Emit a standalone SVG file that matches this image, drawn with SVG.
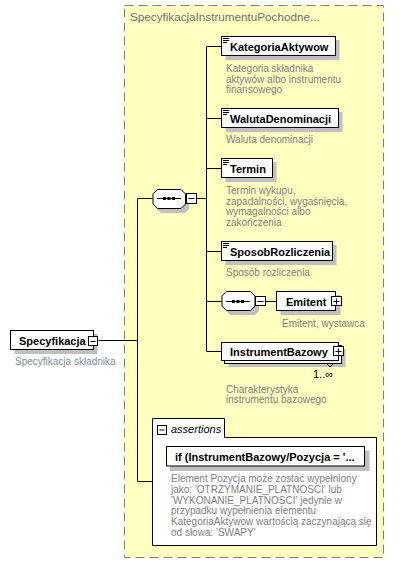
<svg xmlns="http://www.w3.org/2000/svg" width="401" height="575" viewBox="0 0 401 575">
<style>
.bg{fill:#fff}
.frame{fill:#ffffc0;stroke:#808080;stroke-width:1;stroke-dasharray:9,5}
.box{fill:#fff;stroke:#000;stroke-width:1}
.shadow{fill:#c0c0c0}
.name{font-family:"Liberation Sans",Arial,sans-serif;font-size:11px;font-weight:bold;fill:#000}
.desc{font-family:"Liberation Sans",Arial,sans-serif;font-size:10px;fill:#808080}
.title{font-family:"Liberation Sans",Arial,sans-serif;font-size:11.7px;fill:#707070}
.ital{font-family:"Liberation Sans",Arial,sans-serif;font-size:11px;font-style:italic;fill:#000}
.line{stroke:#000;stroke-width:1;fill:none}
.sym{stroke:#000;stroke-width:1;fill:none}
</style>
<rect class="bg" x="0" y="0" width="401" height="575"/>
<g id="frame">
<rect class="frame" x="124.5" y="5.5" width="259" height="552"/>
<text class="title" x="130" y="21">SpecyfikacjaInstrumentuPochodne...</text>
</g>
<g id="connectors">
<path class="line" d="M98.5 340.5H137.5M137.5 198.5V481.5M137.5 198.5H152.5M137.5 481.5H152.5"/>
<path class="line" d="M196.5 198.5H206.5M206.5 46.5V351.5M206.5 46.5H221.5M206.5 118.5H221.5M206.5 168.5H221.5M206.5 251.5H221.5M206.5 301.5H221.5M206.5 351.5H221.5"/>
<path class="line" d="M265.5 301.5H276.5"/>
</g>
<g id="Specyfikacja">
<rect class="shadow" x="14.5" y="334" width="83" height="20"/>
<rect class="box" x="10.5" y="330.5" width="83" height="19"/>
<text class="name" x="19" y="345">Specyfikacja</text>
<rect class="box" x="88.5" y="336.5" width="9" height="9"/>
<path class="sym" d="M90.5 341.5H95.5"/>
<text class="desc" x="15" y="365" style="fill:#8090a0">Specyfikacja składnika</text>
</g>
<g id="sequence1">
<path class="shadow" d="M161 193H185L189 197V209L185 213H161L157 209V197Z"/>
<path class="box" d="M157.5 189.5H181L185.5 194V204L181 208.5H157.5L153 204V194Z"/>
<path class="sym" d="M157 198.5H181"/>
<rect x="163" y="197" width="3" height="3" fill="#000"/>
<rect x="167.5" y="197" width="3" height="3" fill="#000"/>
<rect x="172" y="197" width="3" height="3" fill="#000"/>
<rect class="box" x="186.5" y="193.5" width="10" height="10"/>
<path class="sym" d="M188.5 198.5H194.5"/>
</g>
<g id="KategoriaAktywow">
<rect class="shadow" x="225.5" y="40" width="114" height="20"/>
<rect class="box" x="221.5" y="36.5" width="114" height="19"/>
<path class="sym" d="M223 38.5H229M223 40.5H229M223 42.5H227"/>
<text class="name" x="230" y="51">KategoriaAktywow</text>
<text class="desc" x="226" y="72">Kategoria składnika</text>
<text class="desc" x="226" y="82.5">aktywów albo instrumentu</text>
<text class="desc" x="226" y="93">finansowego</text>
</g>
<g id="WalutaDenominacji">
<rect class="shadow" x="225.5" y="112" width="117" height="20"/>
<rect class="box" x="221.5" y="108.5" width="117" height="19"/>
<path class="sym" d="M223 110.5H229M223 112.5H229M223 114.5H227"/>
<text class="name" x="230" y="123">WalutaDenominacji</text>
<text class="desc" x="226" y="143">Waluta denominacji</text>
</g>
<g id="Termin">
<rect class="shadow" x="225.5" y="162" width="51" height="20"/>
<rect class="box" x="221.5" y="158.5" width="51" height="19"/>
<path class="sym" d="M223 160.5H229M223 162.5H229M223 164.5H227"/>
<text class="name" x="230" y="173">Termin</text>
<text class="desc" x="226" y="193.5">Termin wykupu,</text>
<text class="desc" x="226" y="204.5">zapadalności, wygaśnięcia,</text>
<text class="desc" x="226" y="215">wymagalności albo</text>
<text class="desc" x="226" y="226">zakończenia</text>
</g>
<g id="SposobRozliczenia">
<rect class="shadow" x="225.5" y="245" width="111" height="20"/>
<rect class="box" x="221.5" y="241.5" width="111" height="19"/>
<path class="sym" d="M223 243.5H229M223 245.5H229M223 247.5H227"/>
<text class="name" x="230" y="256">SposobRozliczenia</text>
<text class="desc" x="226" y="276">Sposób rozliczenia</text>
</g>
<g id="sequence2">
<path class="shadow" d="M230 295H255L259 299V311L255 315H230L226 311V299Z"/>
<path class="box" d="M226.5 291.5H250.5L255 296V306L250.5 310.5H226.5L222 306V296Z"/>
<path class="sym" d="M226 301.5H250"/>
<rect x="232" y="300" width="3" height="3" fill="#000"/>
<rect x="236.5" y="300" width="3" height="3" fill="#000"/>
<rect x="241" y="300" width="3" height="3" fill="#000"/>
<rect class="box" x="255.5" y="296.5" width="10" height="9"/>
<path class="sym" d="M257.5 301.5H263.5"/>
</g>
<g id="Emitent">
<rect class="shadow" x="280.5" y="295" width="60" height="20"/>
<rect class="box" x="276.5" y="291.5" width="59" height="19"/>
<text class="name" x="286" y="306">Emitent</text>
<rect class="box" x="331.5" y="296.5" width="10" height="9"/>
<path class="sym" d="M333.5 301.5H339.5M336.5 298.5V304.5"/>
<text class="desc" x="282" y="327">Emitent, wystawca</text>
</g>
<g id="InstrumentBazowy">
<rect class="shadow" x="228.5" y="349" width="117" height="18"/>
<rect class="box" x="224.5" y="345.5" width="117" height="18"/>
<rect class="box" x="221.5" y="342.5" width="117" height="18"/>
<text class="name" x="230" y="356">InstrumentBazowy</text>
<rect class="box" x="333.5" y="346.5" width="10" height="9"/>
<path class="sym" d="M335.5 351.5H341.5M338.5 348.5V354.5"/>
<path class="sym" d="M326.5 363.5L330 367L333.5 363.5"/>
<text class="name" x="313" y="378" style="font-weight:normal">1..∞</text>
<text class="desc" x="226" y="392.5">Charakterystyka</text>
<text class="desc" x="226" y="403">instrumentu bazowego</text>
</g>
<g id="assertions">
<path class="box" d="M152.5 545.5V418.5H224.5V437.5H376.5V545.5Z"/>
<rect class="box" x="157.5" y="425.5" width="9" height="9"/>
<path class="sym" d="M159.5 430H164.5"/>
<text class="ital" x="171" y="432.5">assertions</text>
<rect class="shadow" x="170" y="450.5" width="199.5" height="20.5"/>
<rect class="box" x="166.5" y="446.5" width="198" height="19.5"/>
<text class="name" x="175" y="461">if (InstrumentBazowy/Pozycja = '...</text>
<text class="desc" x="171" y="482">Element Pozycja może zostać wypełniony</text>
<text class="desc" x="171" y="492.8">jako: 'OTRZYMANIE_PLATNOSCI' lub</text>
<text class="desc" x="171" y="503.6">'WYKONANIE_PLATNOSCI' jedynie w</text>
<text class="desc" x="171" y="514.4">przypadku wypełnienia elementu</text>
<text class="desc" x="171" y="525.2">KategoriaAktywow wartością zaczynającą się</text>
<text class="desc" x="171" y="536">od słowa: 'SWAPY'</text>
</g>
</svg>
